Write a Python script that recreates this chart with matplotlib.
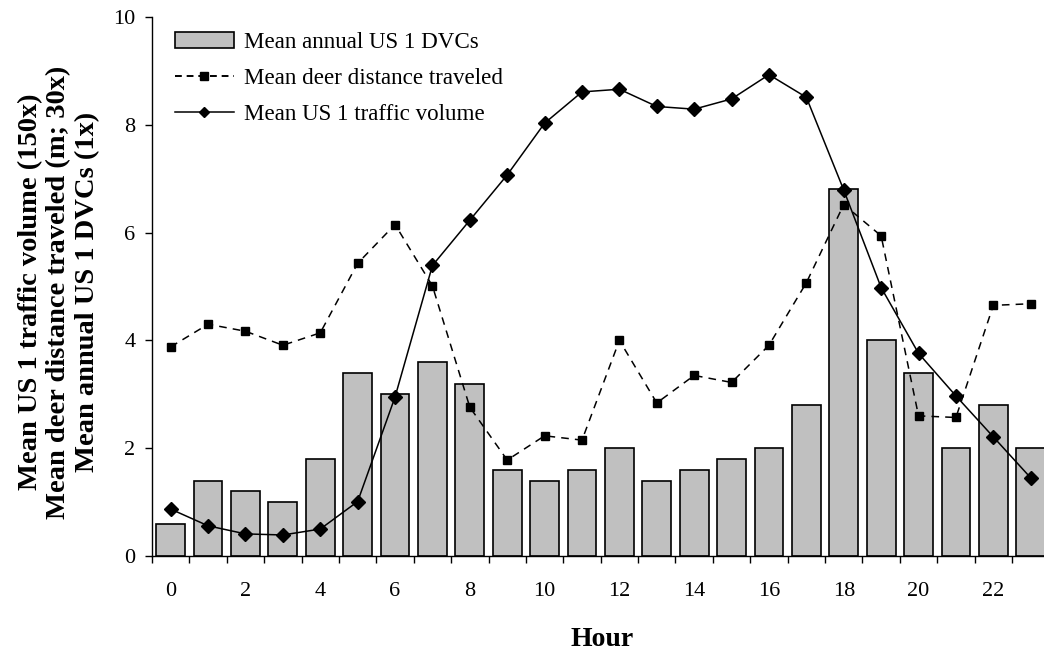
import numpy as np
import matplotlib
matplotlib.use("Agg")
import matplotlib.pyplot as plt
from matplotlib.patches import Patch
from matplotlib.lines import Line2D

hours = list(range(24))
dvcs = [0.6, 1.4, 1.2, 1.0, 1.8, 3.4, 3.0, 3.6, 3.2, 1.6, 1.4, 1.6,
        2.0, 1.4, 1.6, 1.8, 2.0, 2.8, 6.8, 4.0, 3.4, 2.0, 2.8, 2.0]
deer = [3.88, 4.30, 4.17, 3.91, 4.14, 5.43, 6.15, 5.01, 2.76, 1.78, 2.23, 2.15,
        4.00, 2.84, 3.35, 3.22, 3.91, 5.07, 6.52, 5.94, 2.60, 2.57, 4.65, 4.68]
traffic = [0.87, 0.56, 0.41, 0.39, 0.50, 1.01, 2.95, 5.39, 6.23, 7.07, 8.03, 8.61,
           8.66, 8.34, 8.29, 8.48, 8.93, 8.51, 6.79, 4.98, 3.76, 2.97, 2.21, 1.45]
xtick_labels = [str(h) if h % 2 == 0 else "" for h in hours]
yticks = [0, 2, 4, 6, 8, 10]

plt.rcParams['font.family'] = ['Liberation Serif', 'DejaVu Serif']

fig = plt.figure(figsize=(10.44, 6.54), dpi=100)
ax = fig.add_axes([152/1044, 1-556/654, 897.4/1044, (556-17)/654])

ax.bar(hours, dvcs, width=0.77, color='#C0C0C0', edgecolor='black', linewidth=1.2, zorder=1)

ax.plot(hours, deer, linestyle=(0, (5, 4)), color='black', linewidth=1.1,
        marker='s', markersize=6, markerfacecolor='black', zorder=3)
ax.plot(hours, traffic, linestyle='-', color='black', linewidth=1.1,
        marker='D', markersize=7, zorder=4)

ax.set_xlim(-0.5, 23.5)
ax.set_ylim(0, 10)
ax.set_yticks(yticks)
ax.set_yticklabels([str(v) for v in yticks])
ax.set_xticks(hours)
ax.set_xticklabels(xtick_labels)
ax.set_xticks(np.arange(-0.5, 23.5, 1), minor=True)
ax.tick_params(axis='x', which='major', length=0, pad=19, labelsize=16)
ax.tick_params(axis='x', which='minor', length=5, width=1, direction='out')
ax.tick_params(axis='y', length=5, width=1, direction='out', labelsize=16, pad=7)
ax.spines['top'].set_visible(False)
ax.spines['right'].set_visible(False)
ax.spines['left'].set_linewidth(1)
ax.spines['bottom'].set_linewidth(1)

fig.text(602/1044, 1-640/654, 'Hour', ha='center', va='center',
         fontsize=20, fontweight='bold')
fig.text(59/1044, 1-292/654,
         'Mean US 1 traffic volume (150x)\nMean deer distance traveled (m; 30x)\nMean annual US 1 DVCs (1x)',
         rotation=90, ha='center', va='center', fontsize=20.5, fontweight='bold',
         linespacing=1.17, multialignment='center')

handles = [Patch(facecolor='#C0C0C0', edgecolor='black', linewidth=1.2),
           Line2D([], [], linestyle=(0, (3.5, 2.5)), color='black', linewidth=1.4,
                  marker='s', markersize=5.5),
           Line2D([], [], linestyle='-', color='black', linewidth=1.1,
                  marker='D', markersize=5.5)]
labels = ['Mean annual US 1 DVCs', 'Mean deer distance traveled', 'Mean US 1 traffic volume']
leg = ax.legend(handles, labels, loc='upper left', bbox_to_anchor=(175/1044, 1-32/654),
                bbox_transform=fig.transFigure, frameon=False, fontsize=16.6,
                handlelength=2.55, handleheight=0.7, handletextpad=0.45,
                labelspacing=0.64, borderpad=0, borderaxespad=0)

fig.savefig('out.png', dpi=100)
